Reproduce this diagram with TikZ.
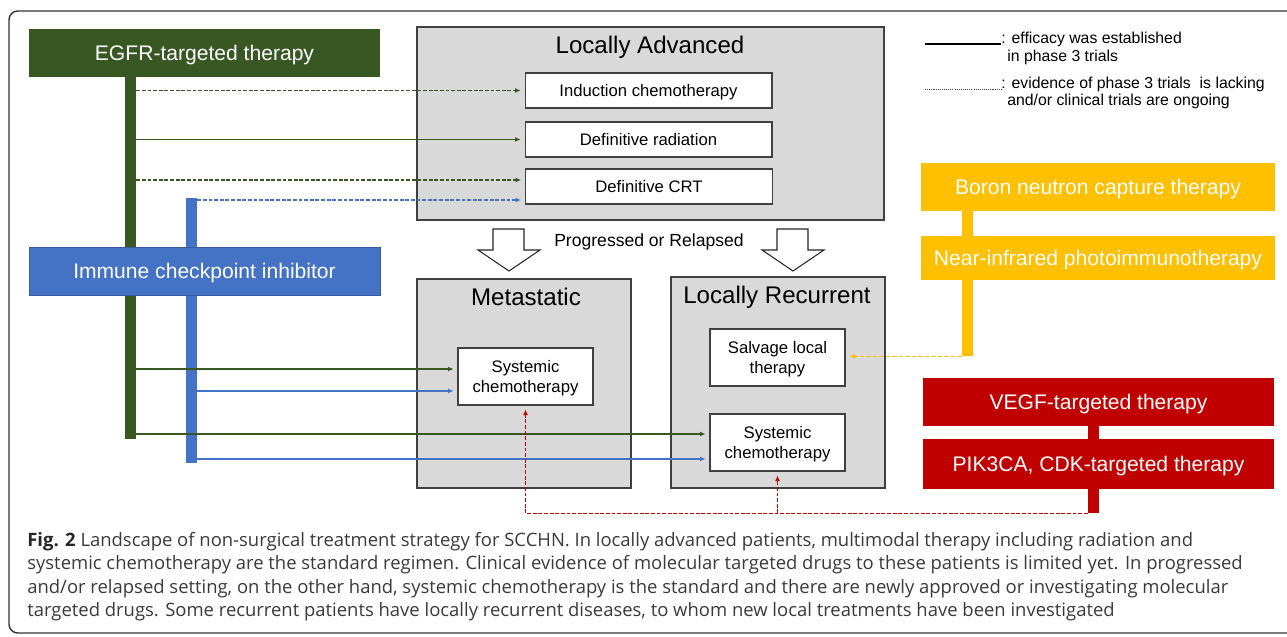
\documentclass[tikz,border=0pt]{standalone}
\usepackage{fontspec}
\setmainfont{Liberation Sans}
\newfontfamily\capfont{Open Sans}
\usetikzlibrary{arrows.meta}
\definecolor{egfrgreen}{HTML}{385723}
\definecolor{iciblue}{HTML}{4472C4}
\definecolor{localyellow}{HTML}{FFC000}
\definecolor{targetred}{HTML}{C00000}
\definecolor{panelgray}{HTML}{D9D9D9}
\definecolor{capgray}{HTML}{3A3A3A}

\begin{document}
\begin{tikzpicture}[x=0.02cm,y=0.02cm]
\tikzstyle{every node}+=[inner sep=0pt]
\tikzstyle{panel}=[draw=black!75,fill=panelgray,line width=0.7pt]
\tikzstyle{item}=[draw=black!75,fill=white,line width=0.6pt,align=center,text depth=0pt,font=\fontsize{9.5}{11.5}\selectfont]
\tikzstyle{drug}=[text=white,text depth=0pt,font=\fontsize{12}{14}\selectfont]
\tikzstyle{bar}=[minimum width=0.22cm]
\tikzstyle{title}=[text depth=0pt,font=\fontsize{13.7}{16}\selectfont]
\tikzstyle{link}=[line width=0.9pt,-{Latex[length=3.2pt,width=2.8pt]},shorten >=2.2pt]
\tikzstyle{maybe}=[dash pattern=on 2.2pt off 1pt]
\tikzstyle{bigarrow}=[draw=black!85,fill=white,line width=0.6pt]
\useasboundingbox (0,0) rectangle (1287,-636);
\draw [black!80,line width=0.8pt,rounded corners=5pt] (9,-11) rectangle (1300,-633);
% drug bars
\node [bar,fill=egfrgreen,minimum height=7.24cm] (egfrbar) at (130.5,-258) {};
\node [bar,fill=iciblue,minimum height=5.30cm] (icibar) at (191.5,-330.5) {};
\node [bar,fill=localyellow,minimum height=2.90cm] (localbar) at (967.5,-283.5) {};
\node [bar,fill=targetred,minimum height=1.74cm] (targetbar) at (1093.5,-469.5) {};
\node [drug,fill=egfrgreen,minimum width=7.02cm,minimum height=0.96cm] (egfr) at (204.5,-53) {EGFR-targeted therapy};
\node [drug,fill=iciblue,draw=iciblue!80!black,line width=0.5pt,minimum width=7.02cm,minimum height=0.96cm] (ici) at (204.5,-271) {Immune checkpoint inhibitor};
\node [drug,fill=localyellow,minimum width=7.08cm,minimum height=0.96cm] (bnct) at (1098,-187) {Boron neutron capture therapy};
\node [drug,fill=localyellow,minimum width=7.08cm,minimum height=0.88cm] (nirpit) at (1098,-258) {Near-infrared photoimmunotherapy};
\node [drug,fill=targetred,minimum width=7.02cm,minimum height=0.96cm] (vegf) at (1098.5,-402) {VEGF-targeted therapy};
\node [drug,fill=targetred,minimum width=7.02cm,minimum height=1.00cm] (pik) at (1098.5,-464) {PIK3CA, CDK-targeted therapy};
% settings
\node [panel,minimum width=9.34cm,minimum height=3.86cm] (advanced) at (650.5,-123.5) {};
\node [title] (advancedtitle) at (650,-45) {Locally Advanced};
\node [item,minimum width=4.94cm,minimum height=0.70cm] (induction) at (648.5,-90.5) {Induction chemotherapy};
\node [item,minimum width=4.94cm,minimum height=0.70cm] (radiation) at (648.5,-139.5) {Definitive radiation};
\node [item,minimum width=4.94cm,minimum height=0.70cm] (crt) at (649,-186.5) {Definitive CRT};
\node [panel,minimum width=4.28cm,minimum height=4.18cm] (metastatic) at (524,-383.5) {};
\node [title] (metastatictitle) at (526,-297) {Metastatic};
\node [panel,minimum width=4.28cm,minimum height=4.22cm] (recurrent) at (778,-382.5) {};
\node [title] (recurrenttitle) at (777,-295) {Locally Recurrent};
\node [item,minimum width=2.70cm,minimum height=1.14cm] (metchemo) at (525.5,-376.5) {Systemic\\chemotherapy};
\node [item,minimum width=2.70cm,minimum height=1.14cm] (salvage) at (777.5,-357.5) {Salvage local\\therapy};
\node [item,minimum width=2.70cm,minimum height=1.14cm] (recchemo) at (777.5,-442.5) {Systemic\\chemotherapy};
% progression
\draw [bigarrow] (493,-229) -- (524,-229) -- (524,-250) -- (540,-250) -- (509,-271) -- (478,-250) -- (493,-250) -- cycle;
\draw [bigarrow] (777,-229) -- (808,-229) -- (808,-250) -- (824,-250) -- (793,-271) -- (762,-250) -- (777,-250) -- cycle;
\node [text depth=0pt,font=\fontsize{10}{12}\selectfont] (progressed) at (649,-240) {Progressed or Relapsed};
% arrows
\coordinate (crtgreen) at ([yshift=0.13cm]crt.west);
\coordinate (crtblue) at ([yshift=-0.27cm]crt.west);
\coordinate (metgreen) at ([yshift=0.15cm]metchemo.west);
\coordinate (metblue) at ([yshift=-0.29cm]metchemo.west);
\coordinate (recgreen) at ([yshift=0.17cm]recchemo.west);
\coordinate (recblue) at ([yshift=-0.33cm]recchemo.west);
\draw [link,maybe,egfrgreen] (egfrbar.east |- induction.west) -- (induction.west);
\draw [link,egfrgreen] (egfrbar.east |- radiation.west) -- (radiation.west);
\draw [link,maybe,egfrgreen] (egfrbar.east |- crtgreen) -- (crtgreen);
\draw [link,maybe,iciblue] (icibar.east |- crtblue) -- (crtblue);
\draw [link,egfrgreen] (egfrbar.east |- metgreen) -- (metgreen);
\draw [link,iciblue] (icibar.east |- metblue) -- (metblue);
\draw [link,egfrgreen] (egfrbar.east |- recgreen) -- (recgreen);
\draw [link,iciblue] (icibar.east |- recblue) -- (recblue);
\draw [link,localyellow,dash pattern=on 2.5pt off 1.2pt] (localbar.south west) -- (salvage.east |- localbar.south);
\draw [link,maybe,targetred] (targetbar.south west) -- (metchemo.south |- targetbar.south) -- (metchemo.south);
\draw [link,maybe,targetred] (recchemo.south |- targetbar.south) -- (recchemo.south);
% legend
\node [anchor=base west,font=\fontsize{9}{11}\selectfont] (legsolid) at (1001,-43) {: efficacy was established};
\node [anchor=base west,font=\fontsize{9}{11}\selectfont] (legsolidb) at (1007,-61) {in phase 3 trials};
\node [anchor=base west,font=\fontsize{9}{11}\selectfont] (legdotted) at (1001,-88) {: evidence of phase 3 trials\ \ is lacking};
\node [anchor=base west,font=\fontsize{9}{11}\selectfont] (legdottedb) at (1007,-105) {and/or clinical trials are ongoing};
\coordinate (legsolidstart) at (925,-44);
\coordinate (legdottedstart) at (925,-89);
\draw [black,line width=0.6pt] (legsolidstart) -- (legsolid.base west |- legsolidstart);
\draw [black!70,line width=0.5pt,dash pattern=on 0.6pt off 0.6pt] (legdottedstart) -- (legdotted.base west |- legdottedstart);
% caption
\node [anchor=north west,align=left,text=capgray,font=\capfont\fontsize{10.5}{13.3}\selectfont] (caption) at (27,-532) {{\bfseries\color{black!85}Fig. 2} Landscape of non-surgical treatment strategy for SCCHN. In locally advanced patients, multimodal therapy including radiation and\\
systemic chemotherapy are the standard regimen. Clinical evidence of molecular targeted drugs to these patients is limited yet. In progressed\\
and/or relapsed setting, on the other hand, systemic chemotherapy is the standard and there are newly approved or investigating molecular\\
targeted drugs. Some recurrent patients have locally recurrent diseases, to whom new local treatments have been investigated};
\end{tikzpicture}
\end{document}
